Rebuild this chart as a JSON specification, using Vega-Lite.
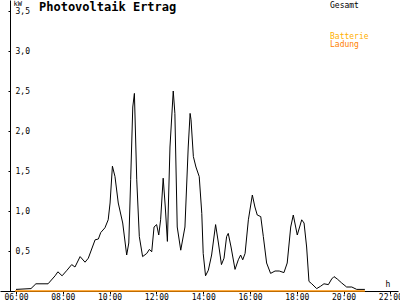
{
  "$schema": "https://vega.github.io/schema/vega-lite/v6.json",
  "width": 398,
  "height": 291,
  "autosize": {"type": "none"},
  "padding": {"left": 0, "top": 0, "right": 2, "bottom": 9},
  "background": "white",
  "config": {
    "view": {"stroke": null},
    "font": "DejaVu Sans Mono",
    "axis": {
      "grid": false,
      "domainColor": "black",
      "tickColor": "black",
      "labelColor": "black",
      "titleColor": "black",
      "labelFont": "DejaVu Sans Mono",
      "titleFont": "DejaVu Sans Mono",
      "labelFontSize": 8,
      "titleFontSize": 8,
      "titleFontWeight": "normal",
      "domainWidth": 1,
      "tickWidth": 1
    },
    "legend": {
      "orient": "none",
      "title": null,
      "symbolSize": 0,
      "symbolStrokeWidth": 0,
      "symbolOpacity": 0,
      "labelOffset": 0,
      "labelFont": "DejaVu Sans Mono",
      "labelFontSize": 8,
      "padding": 0
    }
  },
  "title": {
    "text": "Photovoltaik Ertrag",
    "anchor": "start",
    "frame": "group",
    "orient": "top",
    "offset": 0,
    "baseline": "alphabetic",
    "dx": 39,
    "dy": 24,
    "font": "DejaVu Sans Mono",
    "fontSize": 12,
    "fontWeight": "bold",
    "color": "black"
  },
  "datasets": {
    "ertrag": [
      {"t": 6.00, "kw": 0.02}, {"t": 6.64, "kw": 0.03}, {"t": 6.85, "kw": 0.09}, {"t": 7.37, "kw": 0.09},
      {"t": 7.67, "kw": 0.19}, {"t": 7.79, "kw": 0.24}, {"t": 7.97, "kw": 0.19}, {"t": 8.18, "kw": 0.26},
      {"t": 8.38, "kw": 0.33}, {"t": 8.52, "kw": 0.30}, {"t": 8.74, "kw": 0.43}, {"t": 8.95, "kw": 0.36},
      {"t": 9.09, "kw": 0.41}, {"t": 9.38, "kw": 0.64}, {"t": 9.52, "kw": 0.65}, {"t": 9.62, "kw": 0.73},
      {"t": 9.80, "kw": 0.79}, {"t": 9.94, "kw": 0.89}, {"t": 10.02, "kw": 1.10}, {"t": 10.12, "kw": 1.56},
      {"t": 10.23, "kw": 1.43}, {"t": 10.37, "kw": 1.10}, {"t": 10.56, "kw": 0.85}, {"t": 10.73, "kw": 0.45},
      {"t": 10.82, "kw": 0.60}, {"t": 10.90, "kw": 1.39}, {"t": 10.99, "kw": 2.30}, {"t": 11.06, "kw": 2.47},
      {"t": 11.16, "kw": 1.39}, {"t": 11.27, "kw": 0.68}, {"t": 11.41, "kw": 0.43}, {"t": 11.59, "kw": 0.47},
      {"t": 11.70, "kw": 0.52}, {"t": 11.80, "kw": 0.49}, {"t": 11.90, "kw": 0.80}, {"t": 12.01, "kw": 0.83},
      {"t": 12.10, "kw": 0.70}, {"t": 12.18, "kw": 0.89}, {"t": 12.29, "kw": 1.41}, {"t": 12.38, "kw": 1.05},
      {"t": 12.47, "kw": 0.62}, {"t": 12.58, "kw": 1.80}, {"t": 12.72, "kw": 2.50}, {"t": 12.79, "kw": 2.22},
      {"t": 12.89, "kw": 0.80}, {"t": 13.04, "kw": 0.51}, {"t": 13.22, "kw": 0.80}, {"t": 13.36, "kw": 1.80},
      {"t": 13.44, "kw": 2.22}, {"t": 13.48, "kw": 2.14}, {"t": 13.58, "kw": 1.68}, {"t": 13.69, "kw": 1.55},
      {"t": 13.83, "kw": 1.43}, {"t": 13.94, "kw": 0.97}, {"t": 14.00, "kw": 0.47}, {"t": 14.10, "kw": 0.19},
      {"t": 14.22, "kw": 0.26}, {"t": 14.36, "kw": 0.45}, {"t": 14.53, "kw": 0.83}, {"t": 14.65, "kw": 0.60},
      {"t": 14.78, "kw": 0.33}, {"t": 14.89, "kw": 0.41}, {"t": 15.00, "kw": 0.68}, {"t": 15.07, "kw": 0.72},
      {"t": 15.19, "kw": 0.55}, {"t": 15.36, "kw": 0.27}, {"t": 15.50, "kw": 0.39}, {"t": 15.60, "kw": 0.45},
      {"t": 15.69, "kw": 0.39}, {"t": 15.79, "kw": 0.47}, {"t": 15.93, "kw": 0.89}, {"t": 16.10, "kw": 1.20},
      {"t": 16.21, "kw": 1.05}, {"t": 16.31, "kw": 0.95}, {"t": 16.46, "kw": 0.93}, {"t": 16.57, "kw": 0.68},
      {"t": 16.71, "kw": 0.35}, {"t": 16.88, "kw": 0.22}, {"t": 17.07, "kw": 0.25}, {"t": 17.25, "kw": 0.25},
      {"t": 17.45, "kw": 0.23}, {"t": 17.59, "kw": 0.35}, {"t": 17.74, "kw": 0.80}, {"t": 17.85, "kw": 0.95},
      {"t": 18.02, "kw": 0.70}, {"t": 18.21, "kw": 0.89}, {"t": 18.31, "kw": 0.85}, {"t": 18.42, "kw": 0.55},
      {"t": 18.52, "kw": 0.12}, {"t": 18.64, "kw": 0.09}, {"t": 18.85, "kw": 0.03}, {"t": 19.02, "kw": 0.06},
      {"t": 19.16, "kw": 0.09}, {"t": 19.35, "kw": 0.08}, {"t": 19.49, "kw": 0.15}, {"t": 19.59, "kw": 0.18},
      {"t": 19.73, "kw": 0.15}, {"t": 19.92, "kw": 0.10}, {"t": 20.13, "kw": 0.05}, {"t": 20.35, "kw": 0.05},
      {"t": 20.56, "kw": 0.02}, {"t": 20.91, "kw": 0.02}
    ],
    "akku": [
      {"t": 5.96, "batterie": 0, "ladung": 0},
      {"t": 20.91, "batterie": 0, "ladung": 0}
    ]
  },
  "layer": [
    {
      "data": {"name": "ertrag"},
      "mark": {"type": "line", "strokeWidth": 1},
      "encoding": {
        "x": {
          "field": "t",
          "type": "quantitative",
          "scale": {"domain": [5.316, 22.325], "nice": false, "zero": false},
          "axis": {
            "values": [6, 8, 10, 12, 14, 16, 18, 20, 22],
            "labelExpr": "(datum.value < 10 ? '0' : '') + datum.value + ':00'",
            "tickSize": 3,
            "labelPadding": -1,
            "labelFlush": false,
            "labelOverlap": false,
            "title": "h",
            "titleX": 385,
            "titleY": -5,
            "titleAlign": "left",
            "titleBaseline": "alphabetic"
          }
        },
        "y": {
          "field": "kw",
          "type": "quantitative",
          "scale": {"domain": [0, 3.6375], "nice": false},
          "axis": {
            "orient": "left",
            "offset": -10,
            "values": [0.5, 1, 1.5, 2, 2.5, 3, 3.5],
            "labelExpr": "replace(format(datum.value, '.1f'), '.', ',')",
            "tickSize": 2,
            "labelAlign": "left",
            "labelPadding": -7,
            "labelBaseline": "middle",
            "title": "kW",
            "titleAngle": 0,
            "titleX": 3,
            "titleY": 5,
            "titleAlign": "left",
            "titleBaseline": "alphabetic",
            "titleFontSize": 7
          }
        },
        "color": {
          "datum": "Gesamt",
          "scale": {"domain": ["Gesamt"], "range": ["black"]},
          "legend": {"legendX": 322, "legendY": 2, "labelColor": "black"}
        }
      }
    },
    {
      "data": {"name": "akku"},
      "mark": {"type": "line", "strokeWidth": 1},
      "encoding": {
        "x": {"field": "t", "type": "quantitative"},
        "y": {"field": "batterie", "type": "quantitative"},
        "color": {
          "datum": "Batterie",
          "scale": {"domain": ["Batterie"], "range": ["#FFB000"]},
          "legend": {"legendX": 322, "legendY": 33, "labelColor": "#FFB000"}
        }
      }
    },
    {
      "data": {"name": "akku"},
      "mark": {"type": "line", "strokeWidth": 1},
      "encoding": {
        "x": {"field": "t", "type": "quantitative"},
        "y": {"field": "ladung", "type": "quantitative"},
        "color": {
          "datum": "Ladung",
          "scale": {"domain": ["Ladung"], "range": ["#FF8000"]},
          "legend": {"legendX": 322, "legendY": 41, "labelColor": "#FF8000"}
        }
      }
    }
  ],
  "resolve": {"scale": {"color": "independent"}, "legend": {"color": "independent"}}
}
